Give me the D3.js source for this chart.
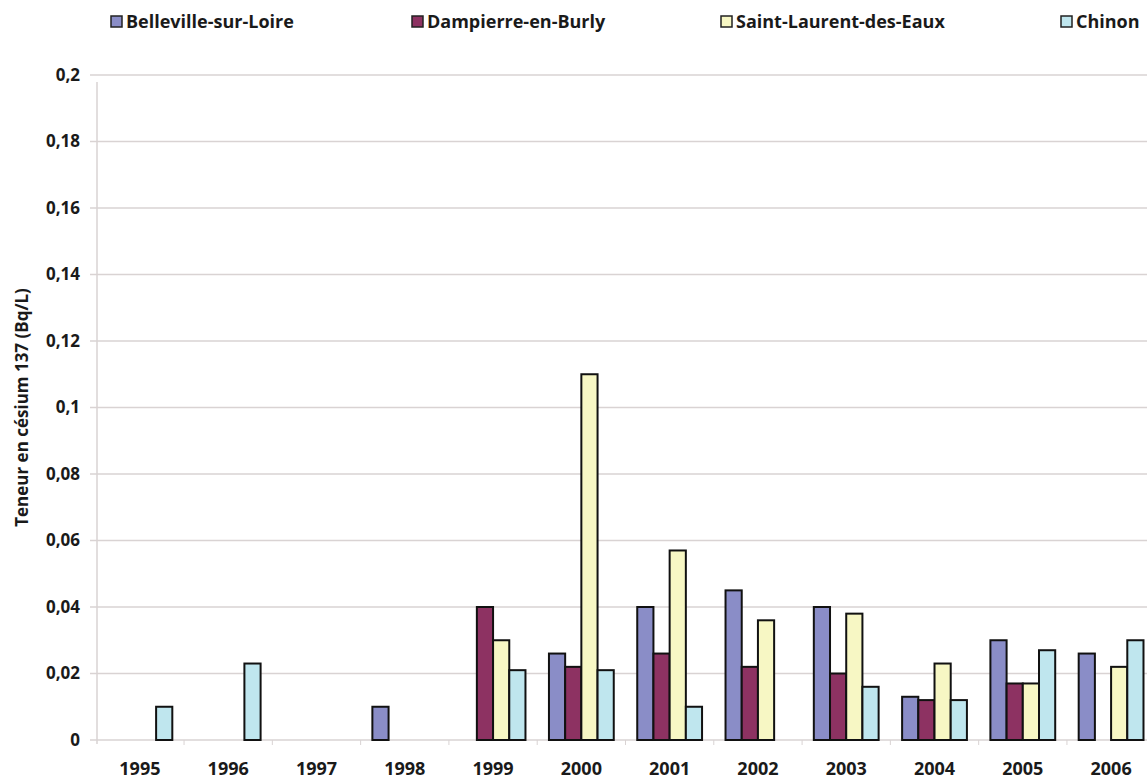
<!DOCTYPE html>
<html>
<head>
<meta charset="utf-8">
<script src="https://cdn.jsdelivr.net/npm/d3@7"></script>
<style>
  body { margin: 0; background: #fff; }
  text { font-family: "Open Sans", "DejaVu Sans", sans-serif; font-weight: bold; fill: #1a1a1a; }
</style>
</head>
<body>
<div id="chart"></div>
<script>
// years on the x axis
const years = ['1995', '1996', '1997', '1998', '1999', '2000', '2001', '2002', '2003', '2004', '2005', '2006'];
const seriesNames = ['Belleville-sur-Loire', 'Dampierre-en-Burly', 'Saint-Laurent-des-Eaux', 'Chinon'];
const seriesColors = ['#8a8dc7', '#8d3262', '#f7f7c4', '#bfe6ee'];

// values per series (null = no measurement)
const belleville   = [null, null, null, 0.010, null, 0.026, 0.040, 0.045, 0.040, 0.013, 0.030, 0.026];
const dampierre    = [null, null, null, null, 0.040, 0.022, 0.026, 0.022, 0.020, 0.012, 0.017, null];
const saintLaurent = [null, null, null, null, 0.030, 0.110, 0.057, 0.036, 0.038, 0.023, 0.017, 0.022];
const chinon       = [0.010, 0.023, null, null, 0.021, 0.021, 0.010, null, 0.016, 0.012, 0.027, 0.030];
const seriesValues = [belleville, dampierre, saintLaurent, chinon];

const yTicks = [0, 0.02, 0.04, 0.06, 0.08, 0.1, 0.12, 0.14, 0.16, 0.18, 0.2];

const width = 1147, height = 780;
// plot runs a little past the right edge, like the cropped original
const margin = {top: 75, right: -7, bottom: 40, left: 97};

const svg = d3.select('#chart').append('svg')
  .attr('width', width)
  .attr('height', height);

const x = d3.scaleBand()
  .domain(years)
  .range([margin.left, width - margin.right])
  .paddingInner(0.266)
  .paddingOuter(0.119);

const xs = d3.scaleBand()
  .domain(d3.range(seriesNames.length))
  .range([0, x.bandwidth()]);

const y = d3.scaleLinear()
  .domain([0, 0.2])
  .range([height - margin.bottom, margin.top]);

const fmt = d => String(d).replace('.', ',');

// gridlines
svg.append('g')
  .selectAll('line')
  .data(yTicks)
  .join('line')
  .attr('x1', margin.left - 7)
  .attr('x2', width)
  .attr('y1', d => y(d))
  .attr('y2', d => y(d))
  .attr('stroke', '#d9d3d3')
  .attr('stroke-width', 1.6);

// y axis line
svg.append('line')
  .attr('x1', margin.left).attr('x2', margin.left)
  .attr('y1', y(0.2) + 7).attr('y2', y(0) + 4)
  .attr('stroke', '#d9d3d3')
  .attr('stroke-width', 1.5);

// category separator ticks on x axis
const step = x.step();
svg.append('g')
  .selectAll('line')
  .data(years.slice(1))
  .join('line')
  .attr('x1', d => x(d) - x.paddingInner() * step / 2)
  .attr('x2', d => x(d) - x.paddingInner() * step / 2)
  .attr('y1', y(0))
  .attr('y2', y(0) + 5)
  .attr('stroke', '#d9d3d3');

// y tick labels
svg.append('g')
  .selectAll('text')
  .data(yTicks)
  .join('text')
  .attr('x', margin.left - 17)
  .attr('y', d => y(d))
  .attr('dy', '0.35em')
  .attr('text-anchor', 'end')
  .style('font-size', '17px')
  .text(fmt);

// x labels
svg.append('g')
  .selectAll('text')
  .data(years)
  .join('text')
  .attr('x', d => x(d) + x.bandwidth() / 2)
  .attr('y', y(0) + 35)
  .attr('text-anchor', 'middle')
  .style('font-size', '18px')
  .text(d => d);

// y axis title
svg.append('text')
  .attr('transform', `translate(28, ${(y(0) + y(0.2)) / 2}) rotate(-90)`)
  .attr('text-anchor', 'middle')
  .style('font-size', '17px')
  .text('Teneur en césium 137 (Bq/L)');

// bars
const bars = [];
seriesValues.forEach((vals, s) => {
  vals.forEach((v, i) => {
    if (v !== null) bars.push({year: years[i], s, v});
  });
});

svg.append('g')
  .selectAll('rect')
  .data(bars)
  .join('rect')
  .attr('x', d => x(d.year) + xs(d.s))
  .attr('y', d => y(d.v))
  .attr('width', xs.bandwidth())
  .attr('height', d => y(0) - y(d.v))
  .attr('fill', d => seriesColors[d.s])
  .attr('stroke', '#111')
  .attr('stroke-width', 2);

// legend
const legendX = [111, 412, 721, 1061];
const legend = svg.append('g')
  .selectAll('g')
  .data(seriesNames)
  .join('g')
  .attr('transform', (d, i) => `translate(${legendX[i]}, 16)`);

legend.append('rect')
  .attr('width', 11)
  .attr('height', 11)
  .attr('fill', (d, i) => seriesColors[i])
  .attr('stroke', '#222')
  .attr('stroke-width', 1.5);

legend.append('text')
  .attr('x', 15)
  .attr('y', 6)
  .attr('dy', '0.35em')
  .style('font-size', '18px')
  .text(d => d);
</script>
</body>
</html>
